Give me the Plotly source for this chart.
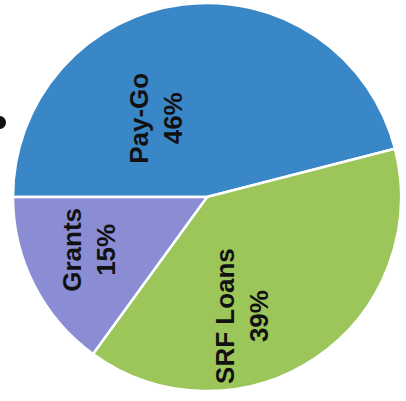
import plotly.graph_objects as go

# Data
categories = ["Pay-Go", "SRF Loans", "Grants"]
shares = [46, 39, 15]
colors = ["#3a87c8", "#9cc55a", "#8a8dd4"]

# label block centres (paper coords), one per category
label_x = [0.384, 0.596, 0.219]
label_y = [0.706, 0.212, 0.377]

fig = go.Figure()
fig.add_trace(go.Pie(
    labels=categories,
    values=shares,
    sort=False,
    direction="clockwise",
    rotation=-90,
    marker=dict(colors=colors, line=dict(color="white", width=2.5)),
    textinfo="none",
    hoverinfo="label+percent",
    showlegend=False,
    domain=dict(x=[13/406, 401/406], y=[1-391/401, 1-3/401]),
))

total = sum(shares)
for cat, val, lx, ly in zip(categories, shares, label_x, label_y):
    fig.add_annotation(
        x=lx, y=ly, xref="paper", yref="paper",
        text=f"<b>{cat}<br>{round(100*val/total)}%</b>",
        textangle=-90, showarrow=False,
        font=dict(family="Liberation Sans, Arial, sans-serif", size=26, color="#111111"),
        xanchor="center", yanchor="middle",
    )

# scan artefact dot at the left edge
fig.add_shape(type="circle", xref="paper", yref="paper",
              x0=-6/406, x1=6/406, y0=1-129/401, y1=1-116/401,
              fillcolor="#111111", line=dict(width=0))

fig.update_layout(
    width=406, height=401,
    margin=dict(l=0, r=0, t=0, b=0),
    paper_bgcolor="white", plot_bgcolor="white",
)

fig.write_html("out.html", config={"displayModeBar": False},
               post_script="document.body.style.margin='0';document.body.style.padding='0';")
